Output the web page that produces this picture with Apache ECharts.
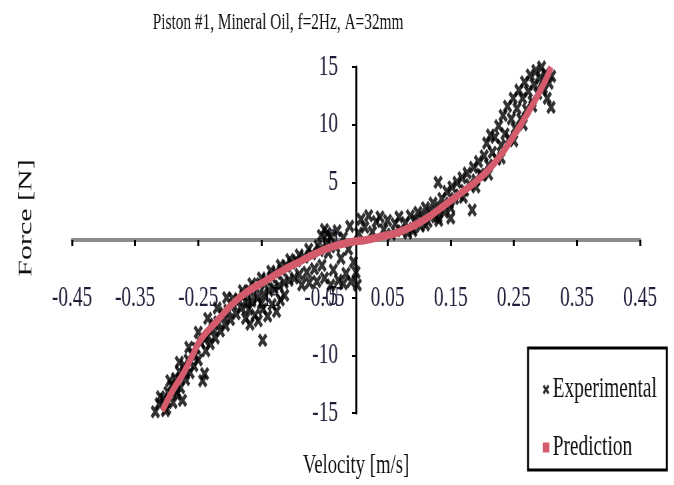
<!DOCTYPE html>
<html>
<head>
<meta charset="utf-8">
<script src="https://cdn.jsdelivr.net/npm/echarts/dist/echarts.min.js"></script>
<style>
  html, body { margin: 0; padding: 0; background: #fff; overflow: hidden; }
  /* the source picture is squeezed sideways, so the chart is drawn wide and scaled back */
  #main { width: 1011px; height: 485px; transform: scaleX(0.6667); transform-origin: 0 0; }
</style>
</head>
<body>
<div id="main"></div>
<script>
const titleText = 'Piston #1, Mineral Oil, f=2Hz, A=32mm';

// experimental points
const expVelocity = [
  -0.318, -0.314, -0.312, -0.308, -0.305, -0.302, -0.298, -0.296, -0.292, -0.29,
  -0.286, -0.284, -0.28, -0.278, -0.275, -0.272, -0.27, -0.266, -0.263, -0.26,
  -0.257, -0.253, -0.25, -0.246, -0.243, -0.24, -0.238, -0.235, -0.231, -0.227,
  -0.223, -0.219, -0.215, -0.211, -0.207, -0.203, -0.199, -0.195, -0.19, -0.186,
  -0.182, -0.178, -0.173, -0.169, -0.165, -0.16, -0.156, -0.152, -0.148, -0.146,
  -0.142, -0.138, -0.134, -0.13, -0.126, -0.122, -0.118, -0.114, -0.11, -0.106,
  -0.102, -0.098, -0.094, -0.09, -0.086, -0.082, -0.078, -0.074, -0.07, -0.066,
  -0.062, -0.058, -0.054, -0.05, -0.044, -0.04, -0.036, -0.032, -0.028, -0.024,
  -0.02, -0.016, -0.012, -0.008, -0.004, 0.0, 0.002,
  -0.175, -0.168, -0.16, -0.155, -0.148, -0.14, -0.133, -0.126, -0.12, -0.113, -0.17, -0.15,
  -0.3, -0.285, -0.27, -0.255, -0.24, -0.225, -0.21, -0.195, -0.18, -0.165,
  -0.15, -0.135, -0.12, -0.105, -0.09, -0.075, -0.06, -0.045,
  -0.31, -0.295, -0.28, -0.265, -0.25, -0.235, -0.22, -0.205,
  -0.055, -0.05, -0.046, -0.04, -0.03, -0.02, -0.01, 0.004, 0.008, 0.014,
  0.02, 0.026, 0.032, 0.038, 0.044, 0.05, 0.056, 0.062, 0.068, 0.072,
  0.078, 0.082, 0.086, 0.09, 0.094, 0.098, 0.102, 0.106, 0.11, 0.114,
  0.118, 0.122, 0.126, 0.13, 0.131, 0.132, 0.136, 0.14, 0.144, 0.148,
  0.15, 0.152, 0.156, 0.16, 0.164, 0.168, 0.172, 0.176, 0.18, 0.184,
  0.186, 0.19, 0.194, 0.197,
  0.2, 0.203, 0.207, 0.21, 0.213, 0.216, 0.22, 0.223, 0.226, 0.23,
  0.233, 0.236, 0.24, 0.243, 0.246, 0.249, 0.252, 0.255, 0.258, 0.261,
  0.264, 0.267, 0.27, 0.273, 0.276, 0.279, 0.282, 0.285, 0.288, 0.291,
  0.294, 0.297, 0.3, 0.303, 0.306, 0.309, 0.31,
  0.09, 0.11, 0.13, 0.15, 0.17, 0.19, 0.21, 0.23, 0.25, 0.265,
  0.28, 0.295
];
const expForce = [
  -14.9, -15.5, -14.2, -15.6, -13.8, -14.8, -13.2, -15.1, -12.6, -14.1,
  -12.0, -13.4, -11.4, -12.8, -13.9, -10.9, -12.1, -10.4, -11.5, -9.9,
  -10.9, -9.4, -10.4, -8.9, -12.2, -11.6, -9.6, -8.3, -9.0, -7.7,
  -8.5, -7.1, -7.9, -6.6, -7.4, -6.1, -6.9, -5.6, -6.4, -5.2,
  -5.9, -4.8, -5.5, -4.4, -5.3, -4.1, -5.0, -3.8, -8.7, -4.7,
  -3.5, -4.4, -3.2, -4.2, -2.9, -4.0, -2.6, -3.7, -2.3, -3.5,
  -2.0, -3.3, -1.8, -3.0, -3.9, -1.5, -2.8, -3.7, -1.2, -2.5,
  -3.6, -0.9, -2.2, -3.3, -1.1, -3.9, -2.6, -0.6, -3.5, -1.6,
  -3.8, -2.9, -0.8, -3.6, -1.9, -2.8, -3.9,
  -6.8, -7.3, -6.5, -7.0, -6.0, -6.6, -5.6, -6.2, -5.2, -4.8, -6.0, -5.5,
  -14.6, -13.1, -11.6, -10.0, -8.6, -7.3, -6.3, -5.1, -4.4, -3.8,
  -3.3, -2.7, -2.2, -1.7, -1.3, -0.8, -0.5, -0.2,
  -13.6, -12.2, -10.6, -9.3, -8.0, -6.8, -5.9, -5.0,
  0.4, 0.9, 0.6, 0.3, 0.8, 0.2, 1.2, 0.6, 1.8, 1.1,
  2.1, 0.7, 1.6, 2.0, 0.9, 1.7, 0.5, 1.4, 2.0, 0.8,
  1.5, 0.6, 2.1, 1.0, 1.7, 2.4, 1.2, 2.0, 2.8, 1.6,
  2.4, 3.2, 2.0, 5.0, 1.7, 2.8, 3.6, 2.4, 4.2, 3.2,
  1.9, 4.6, 3.6, 5.0, 3.9, 5.4, 4.3, 5.8, 4.8, 2.6,
  6.3, 5.2, 6.8, 5.7,
  5.6, 7.3, 8.4, 6.5, 9.1, 7.6, 8.9, 7.0, 9.9, 8.2,
  10.8, 9.2, 11.6, 8.8, 10.5, 12.3, 9.7, 11.4, 13.0, 10.5,
  12.3, 13.7, 11.3, 12.9, 14.3, 12.0, 13.5, 14.7, 12.7, 14.0,
  15.0, 13.2, 14.4, 12.3, 13.6, 11.5, 14.2,
  0.8, 1.3, 2.0, 2.8, 3.7, 4.6, 5.7, 7.1, 8.6, 10.0,
  11.6, 13.0
];

// prediction curve
const predVelocity = [-0.307, -0.29, -0.274, -0.26, -0.247, -0.22, -0.195, -0.17, -0.142, -0.115,
  -0.09, -0.065, -0.038, -0.01, 0.016, 0.04, 0.063, 0.09, 0.115, 0.14,
  0.167, 0.195, 0.22, 0.246, 0.272, 0.299, 0.309];
const predForce = [-14.8, -13.0, -11.6, -10.1, -8.7, -7.0, -5.5, -4.4, -3.5, -2.6,
  -1.9, -1.2, -0.6, -0.2, 0.0, 0.3, 0.6, 1.2, 2.0, 3.0,
  4.1, 5.3, 6.7, 8.7, 11.0, 13.7, 15.0];

const xRange = [-0.45, 0.45];
const xStep = 0.1;
const yRange = [-15, 15];
const yStep = 5;

const crossMark = 'path://M0,2.2L2.2,0L5,2.8L7.8,0L10,2.2L7.2,5L10,7.8L7.8,10L5,7.2L2.2,10L0,7.8L2.8,5Z';
const serif = 'Liberation Serif';
const labelColor = '#1e1e3a';
const predColor = '#d35b6b';

const chart = echarts.init(document.getElementById('main'));

// grid edges (in the unscaled drawing); axes are shifted onto the zero lines with offset
const gridBox = { left: 108, right: 51, top: 67, bottom: 72 };
const xAxisShift = -173;  // bottom edge -> F = 0
const yAxisShift = -426;  // left edge -> v = 0

const option = {
  animation: false,
  backgroundColor: '#fff',
  title: {
    text: titleText,
    left: 229,
    top: 11,
    padding: 0,
    textStyle: { fontFamily: serif, fontSize: 23, fontWeight: 'normal', color: '#111' }
  },
  legend: {
    orient: 'vertical',
    left: 792,
    top: 348,
    padding: [27, 15, 8, 22],
    itemGap: 29,
    itemWidth: 10,
    itemHeight: 10,
    borderColor: '#000',
    borderWidth: 3,
    backgroundColor: '#fff',
    textStyle: { fontFamily: serif, fontSize: 29, color: '#111' },
    data: [
      { name: 'Experimental', icon: crossMark },
      { name: 'Prediction', icon: 'rect' }
    ]
  },
  grid: Object.assign({ containLabel: false, outerBoundsMode: 'none' }, gridBox),
  xAxis: {
    type: 'value',
    min: xRange[0],
    max: xRange[1],
    interval: xStep,
    offset: xAxisShift,
    name: 'Velocity [m/s]',
    nameLocation: 'middle',
    nameGap: 212,
    nameTextStyle: { fontFamily: serif, fontSize: 28, color: '#111' },
    axisLine: { show: true, onZero: false, lineStyle: { color: '#8c8c8c', width: 4 } },
    axisTick: { show: true, length: 6, lineStyle: { color: '#000', width: 3 } },
    axisLabel: {
      margin: 44,
      fontFamily: serif,
      fontSize: 29,
      color: labelColor,
      formatter: v => v.toFixed(2)
    },
    splitLine: { show: false }
  },
  yAxis: {
    type: 'value',
    min: yRange[0],
    max: yRange[1],
    interval: yStep,
    offset: yAxisShift,
    name: 'Force [N]',
    nameLocation: 'middle',
    nameRotate: 90,
    nameGap: 480,
    nameTextStyle: { fontFamily: serif, fontSize: 30, color: '#111', padding: [0, 0, 0, 44] },
    axisLine: { show: true, onZero: false, lineStyle: { color: '#000', width: 3 } },
    axisTick: { show: true, length: 6, lineStyle: { color: '#000', width: 2 } },
    axisLabel: { margin: 27, fontFamily: serif, fontSize: 29, color: labelColor },
    splitLine: { show: false }
  },
  series: [
    {
      name: 'Experimental',
      type: 'scatter',
      symbol: crossMark,
      symbolSize: 14,
      itemStyle: { color: '#000' },
      data: expVelocity.map((v, i) => [v, expForce[i]])
    },
    {
      name: 'Prediction',
      type: 'line',
      smooth: true,
      showSymbol: false,
      lineStyle: { color: predColor, width: 8 },
      itemStyle: { color: predColor },
      data: predVelocity.map((v, i) => [v, predForce[i]])
    }
  ]
};

chart.setOption(option);
</script>
</body>
</html>
